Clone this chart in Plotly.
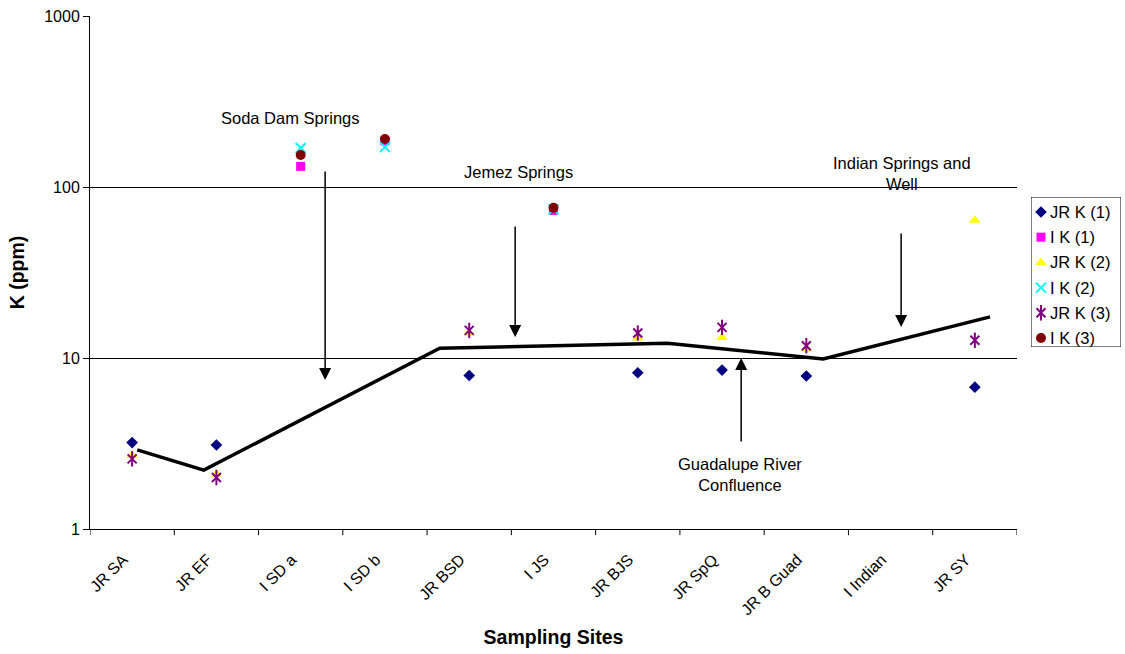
import plotly.graph_objects as go

sites = ["JR SA", "JR EF", "I SD a", "I SD b", "JR BSD", "I JS",
         "JR BJS", "JR SpQ", "JR B Guad", "I Indian", "JR SY"]

# potassium concentrations (ppm); None = not sampled
jr_k1 = [3.2, 3.1, None, None, 7.9, None, 8.2, 8.5, 7.85, None, 6.75]
i_k1 = [None, None, 132, 186, None, 73, None, None, None, None, None]
jr_k2 = [2.7, 2.1, None, None, 14.0, None, 13.1, 13.2, 11.3, None, 64]
i_k2 = [None, None, 169, 171, None, 74, None, None, None, None, None]
jr_k3 = [2.57, 2.0, None, None, 14.5, None, 14.0, 15.1, 11.8, None, 12.7]
i_k3 = [None, None, 154, 191, None, 75.5, None, None, None, None, None]

# river trend line (position along the site axis, K in ppm)
trend_pos = [0.06, 0.85, 3.65, 6.35, 8.2, 10.18]
trend_k = [2.9, 2.21, 11.4, 12.2, 9.87, 17.4]

xi = list(range(len(sites)))
FONT = "Liberation Sans, Arial, sans-serif"

W, H = 1125, 654
ML, MR, MT, MB = 90, 0, 16, 125
paper_w = W - ML - MR
plot_right = 1017                     # right edge of the data area (px)
box = dict(x0=1031, x1=1121, y0=197, y1=347)   # legend box (px)

fig = go.Figure()

fig.add_trace(go.Scatter(x=trend_pos, y=trend_k, mode="lines",
                         line=dict(color="black", width=3.5),
                         hoverinfo="skip"))


def star_parts(color):
    # six-armed star: an x with a vertical bar through it
    return [dict(symbol="x-thin-open", color=color, size=9,
                 line=dict(color=color, width=2)),
            dict(symbol="line-ns-open", color=color, size=11,
                 line=dict(color=color, width=2))]


series = [
    ("JR K (1)", jr_k1, [dict(symbol="diamond", color="#000080", size=9)]),
    ("I K (1)", i_k1, [dict(symbol="square", color="#FF00FF", size=9)]),
    ("JR K (2)", jr_k2, [dict(symbol="triangle-up", color="#FFFF00",
                              size=10)]),
    ("I K (2)", i_k2, [dict(symbol="x-thin-open", color="#00FFFF", size=10,
                            line=dict(color="#00FFFF", width=2))]),
    ("JR K (3)", jr_k3, star_parts("#800080")),
    ("I K (3)", i_k3, [dict(symbol="circle", color="#800000", size=10)]),
]
for name, vals, parts in series:
    for mk in parts:
        fig.add_trace(go.Scatter(x=xi, y=vals, mode="markers", name=name,
                                 marker=mk))

# legend drawn on its own small pixel-unit axis beside the plot
box_w = box["x1"] - box["x0"]
box_h = box["y1"] - box["y0"]
row_h = 25.2
for k, (name, vals, parts) in enumerate(series):
    yc = 15 + k * row_h
    for mk in parts:
        fig.add_trace(go.Scatter(x=[10], y=[yc], mode="markers", marker=mk,
                                 xaxis="x2", yaxis="y2", hoverinfo="skip"))
    fig.add_annotation(x=17, y=yc, xref="x2", yref="y2", text=name,
                       showarrow=False, xanchor="left", yanchor="middle",
                       font=dict(size=16.5, family=FONT, color="black"))
fig.add_shape(type="rect", xref="x2", yref="y2", x0=0, x1=box_w,
              y0=0, y1=box_h, line=dict(color="black", width=1))

notes = [
    # text, text x, text log-y, arrow x, tail log-y, head log-y
    ("Soda Dam Springs", 1.875, 2.404, 2.29, 2.099, 0.871),
    ("Jemez Springs", 4.59, 2.088, 4.545, 1.778, 1.123),
    ("Indian Springs and<br>Well", 9.14, 2.08, 9.125, 1.737, 1.181),
    ("Guadalupe River<br>Confluence", 7.215, 0.32, 7.227, 0.503, 1.0),
]
for text, tx, ty, axp, tail, head in notes:
    fig.add_annotation(x=tx, y=ty, xref="x", yref="y", text=text,
                       showarrow=False, font=dict(size=16.5, color="black",
                                                  family=FONT))
    fig.add_annotation(x=axp, y=head, ax=axp, ay=tail, xref="x", yref="y",
                       axref="x", ayref="y", text="", showarrow=True,
                       arrowhead=2, arrowsize=1.6, arrowwidth=1.5,
                       arrowcolor="black")

plot_h = H - MT - MB
fig.update_layout(
    width=W, height=H, showlegend=False,
    margin=dict(l=ML, r=MR, t=MT, b=MB, autoexpand=False),
    paper_bgcolor="white", plot_bgcolor="white",
    font=dict(family=FONT, color="black"),
    xaxis=dict(domain=[0, (plot_right - ML) / paper_w],
               range=[-0.5, 10.5], tickmode="array", tickvals=xi,
               ticktext=sites, tickangle=-45, showgrid=False,
               showline=True, linecolor="black", linewidth=1,
               ticks="outside", ticklen=14, tickcolor="rgba(0,0,0,0)",
               ticklabelshift=-9,
               tickfont=dict(size=16),
               title=dict(text="<b>Sampling Sites</b>", font=dict(size=19.5),
                          standoff=13),
               zeroline=False),
    yaxis=dict(type="log", range=[0, 3], tickvals=[1, 10, 100, 1000],
               ticktext=["1", "10", "100", "1000"], showgrid=True,
               gridcolor="black", gridwidth=1, showline=True,
               linecolor="black", linewidth=1, ticks="outside",
               ticklen=6, tickcolor="black", tickfont=dict(size=16),
               title=dict(text="<b>K (ppm)</b>", font=dict(size=19.5),
                          standoff=14),
               zeroline=False),
    xaxis2=dict(domain=[(box["x0"] - ML) / paper_w,
                        (box["x1"] - ML) / paper_w],
                range=[0, box_w], visible=False, fixedrange=True,
                anchor="y2"),
    yaxis2=dict(domain=[(H - MB - box["y1"]) / plot_h,
                        (H - MB - box["y0"]) / plot_h],
                range=[box_h, 0], visible=False, fixedrange=True,
                anchor="x2"),
)

# category boundary ticks along the site axis
for b in [i - 0.5 for i in range(len(sites) + 1)]:
    fig.add_shape(type="line", xref="x", yref="paper", x0=b, x1=b,
                  y0=0, y1=-0.012, line=dict(color="black", width=1))

fig.write_html("out.html")
